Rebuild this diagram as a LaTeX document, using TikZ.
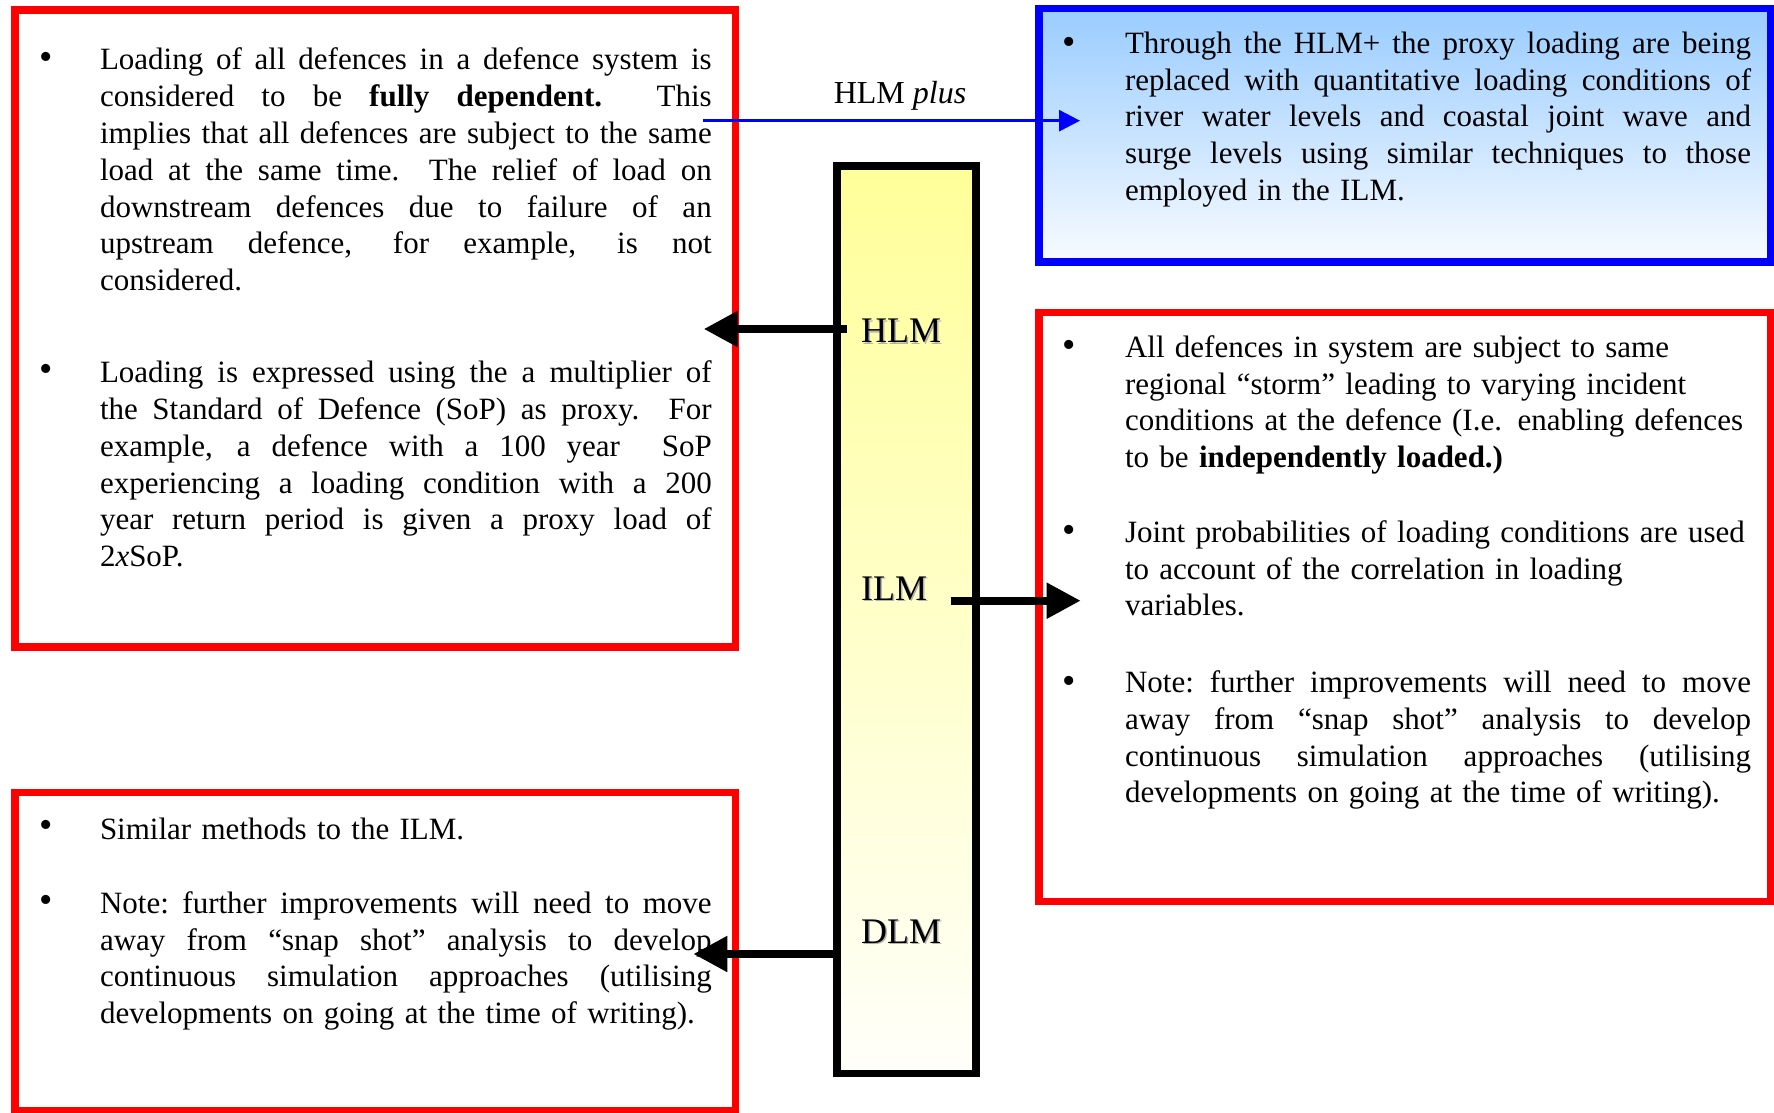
\documentclass[tikz,border=0pt]{standalone}
\usepackage{fontspec}
\setmainfont{Liberation Serif}
\usetikzlibrary{arrows.meta}

\definecolor{boxred}{RGB}{255,0,0}
\definecolor{boxblue}{RGB}{0,0,255}
\definecolor{skytop}{RGB}{153,204,255}
\definecolor{skybottom}{RGB}{248,251,255}
\definecolor{bartop}{RGB}{255,255,153}
\definecolor{barbottom}{RGB}{255,255,250}

% column widths of the two text columns
\newlength\leftcol \setlength\leftcol{305.85pt}
\newlength\rightcol \setlength\rightcol{313pt}
% one fully justified line, spaces stretched evenly
\newcommand\fullline[2]{\leavevmode\hbox to #1{\spaceskip=0.25em plus 1fil minus 0.08em\xspaceskip=\spaceskip #2}}
\newcommand\jl[1]{\fullline{\leftcol}{#1}}
\newcommand\jr[1]{\fullline{\rightcol}{#1}}

\tikzset{
  frame/.style={draw, line width=3.75pt, inner sep=0pt, outer sep=0pt},
  redframe/.style={frame, draw=boxred},
  blueframe/.style={frame, draw=boxblue, top color=skytop, bottom color=skybottom},
  levelbar/.style={frame, draw=black, top color=bartop, bottom color=barbottom},
  bodyfont/.style={font=\fontsize{15.5pt}{18.4pt}\selectfont},
  bodytext/.style={bodyfont, anchor=base west, inner sep=0pt, outer sep=0pt},
  lefttext/.style={bodytext, text width=\leftcol},
  righttext/.style={bodytext, text width=\rightcol},
  bulletmark/.style={anchor=center, inner sep=0pt, font=\fontsize{19pt}{20pt}\selectfont},
  levelname/.style={anchor=base west, inner sep=0pt, font=\fontsize{18pt}{20pt}\selectfont},
  levelshadow/.style={levelname, text=black!30},
  loadarrow/.style={line width=4pt, -{Triangle[length=17pt,width=17pt]}},
  plusarrow/.style={draw=boxblue, line width=1.5pt, -{Triangle[length=10.5pt,width=10.5pt]}},
}

\begin{document}
\begin{tikzpicture}[x=0.5pt,y=-0.5pt]
\fill[white] (0,0) rectangle (1774,1113);
\useasboundingbox (0,0) rectangle (1774,1113);

% ---- frames ----
\node[redframe, minimum width=360.25pt, minimum height=318.5pt] (hlmbox) at (375.25,328.5) {};
\node[redframe, minimum width=360.25pt, minimum height=159pt] (dlmbox) at (375.25,951.5) {};
\node[blueframe, minimum width=365.75pt, minimum height=126.85pt] (plusbox) at (1404.75,135.15) {};
\node[redframe, minimum width=365.75pt, minimum height=294.5pt] (ilmbox) at (1404.75,607) {};
\node[levelbar, minimum width=69.6pt, minimum height=453.85pt] (bar) at (906.6,619.85) {};

% ---- level names on the bar ----
\node[levelshadow] (hlmshadow) at (862.3,344.3) {HLM};
\node[levelname] (hlm) at (860.7,342.7) {HLM};
\node[levelshadow] (ilmshadow) at (862.3,601.6) {ILM};
\node[levelname] (ilm) at (860.7,600) {ILM};
\node[levelshadow] (dlmshadow) at (862.3,944.9) {DLM};
\node[levelname] (dlm) at (860.7,943.3) {DLM};

\node[font=\fontsize{16pt}{18pt}\selectfont, anchor=base, inner sep=0pt] (pluslabel) at (900,103.3) {HLM \textit{plus}};

% ---- HLM box ----
\node[bulletmark] (hlmbula) at (45.7,60.7) {•};
\node[lefttext] (hlmtexta) at (100,70) {\jl{Loading of all defences in a defence system is}\\
\jl{considered to be \textbf{fully dependent.}\ \ This}\\
\jl{implies that all defences are subject to the same}\\
\jl{load at the same time.\ \ The relief of load on}\\
\jl{downstream defences due to failure of an}\\
\jl{upstream defence, for example, is not}\\
\mbox{considered.}};
\node[bulletmark] (hlmbulb) at (45.7,373.3) {•};
\node[lefttext] (hlmtextb) at (100,382.7) {\jl{Loading is expressed using the a multiplier of}\\
\jl{the Standard of Defence (SoP) as proxy.\ \ For}\\
\jl{example, a defence with a 100 year\ \ SoP}\\
\jl{experiencing a loading condition with a 200}\\
\jl{year return period is given a proxy load of}\\
\mbox{2\textit{x}SoP.}};

% ---- DLM box ----
\node[bulletmark] (dlmbula) at (45.7,829) {•};
\node[lefttext] (dlmtexta) at (100,839) {\mbox{Similar methods to the ILM.}};
\node[bulletmark] (dlmbulb) at (45.7,904) {•};
\node[lefttext] (dlmtextb) at (100,913.3) {\jl{Note: further improvements will need to move}\\
\jl{away from “snap shot” analysis to develop}\\
\jl{continuous simulation approaches (utilising}\\
\mbox{developments on going at the time of writing).}};

% ---- HLM plus box ----
\node[bulletmark] (plusbul) at (1069.3,45.7) {•};
\node[righttext] (plustext) at (1125,53.3) {\jr{Through the HLM+ the proxy loading are being}\\
\jr{replaced with quantitative loading conditions of}\\
\jr{river water levels and coastal joint wave and}\\
\jr{surge levels using similar techniques to those}\\
\mbox{employed in the ILM.}};

% ---- ILM box ----
\node[bulletmark] (ilmbula) at (1069.3,349.3) {•};
\node[righttext, align=left] (ilmtexta) at (1125,357.3) {\mbox{All defences in system are subject to same}\\
\mbox{regional “storm” leading to varying incident}\\
\mbox{conditions at the defence (I.e. enabling defences}\\
\mbox{to be \textbf{independently loaded.)}}};
\node[bulletmark] (ilmbulb) at (1069.3,534.3) {•};
\node[righttext, align=left] (ilmtextb) at (1125,542.3) {\mbox{Joint probabilities of loading conditions are used}\\
\mbox{to account of the correlation in loading}\\
\mbox{variables.}};
\node[bulletmark] (ilmbulc) at (1069.3,684.5) {•};
\node[righttext] (ilmtextc) at (1125,692.5) {\jr{Note: further improvements will need to move}\\
\jr{away from “snap shot” analysis to develop}\\
\jr{continuous simulation approaches (utilising}\\
\mbox{developments on going at the time of writing).}};

% ---- connectors ----
\coordinate (plustail) at (703.3,120.7);
\coordinate (plustip) at (1080,120.7);
\coordinate (hlmtail) at (846.7,329);
\coordinate (hlmtip) at (703.7,329);
\coordinate (ilmtail) at (950.7,600.7);
\coordinate (ilmtip) at (1080.7,600.7);
\coordinate (dlmtail) at (837,954);
\coordinate (dlmtip) at (693.3,954);

\draw[plusarrow] (plustail) -- (plustip);
\draw[loadarrow] (hlmtail) -- (hlmtip);
\draw[loadarrow] (ilmtail) -- (ilmtip);
\draw[loadarrow] (dlmtail) -- (dlmtip);
\end{tikzpicture}
\end{document}
